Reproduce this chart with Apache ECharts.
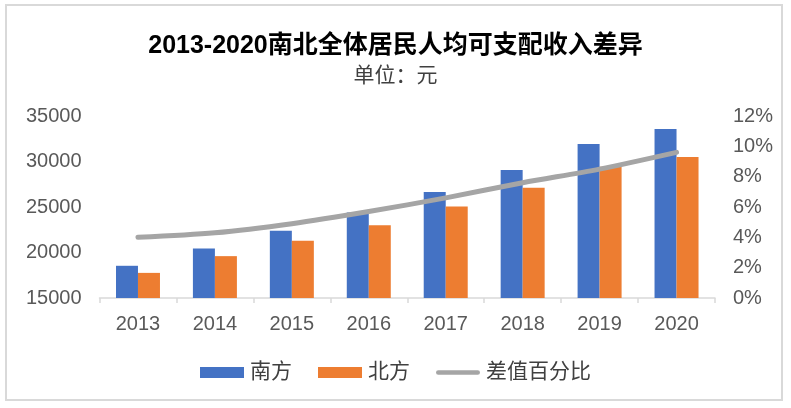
<!DOCTYPE html>
<html>
<head>
<meta charset="utf-8">
<script src="https://cdn.jsdelivr.net/npm/echarts@6/dist/echarts.min.js"></script>
<style>
html,body{margin:0;padding:0;background:#fff;}
#c{width:791px;height:408px;}
</style>
</head>
<body>
<div id="c"></div>
<script>
var categories = ['2013', '2014', '2015', '2016', '2017', '2018', '2019', '2020'];
var south = [18540, 20450, 22400, 24390, 26640, 29070, 31910, 33560];
var north = [17760, 19600, 21300, 22990, 25060, 27110, 29430, 30500];
var ratio = [4.0, 4.3, 4.9, 5.7, 6.6, 7.6, 8.5, 9.6];
var seriesNames = ['南方', '北方', '差值百分比'];
var titleText = '2013-2020南北全体居民人均可支配收入差异';
var subText = '单位：元';

var FONT = '"Liberation Sans", "Noto Sans CJK SC", sans-serif';
var chart = echarts.init(document.getElementById('c'), null, {renderer: 'canvas'});
chart.setOption({
  animation: false,
  backgroundColor: '#fff',
  graphic: [{
    type: 'rect', silent: true,
    shape: {x: 6, y: 5, width: 776, height: 395},
    style: {fill: 'none', stroke: '#D9D9D9', lineWidth: 2}
  }],
  title: [{
    text: titleText, left: 'center', top: 29,
    textStyle: {fontFamily: FONT, fontSize: 25, fontWeight: 'bold', color: '#000'}
  }, {
    text: subText, left: 'center', top: 61,
    textStyle: {fontFamily: FONT, fontSize: 21, fontWeight: 'normal', color: '#404040'}
  }],
  legend: {
    top: 357, left: 'center',
    itemWidth: 44, itemHeight: 11, itemGap: 26,
    textStyle: {fontFamily: FONT, fontSize: 21, color: '#404040', padding: [0, 0, 0, 1]},
    data: [
      {name: seriesNames[0], icon: 'rect'},
      {name: seriesNames[1], icon: 'rect'},
      {name: seriesNames[2], icon: 'path://M2.5,0 L45.5,0 A2.5,2.5 0 0 1 45.5,5 L2.5,5 A2.5,2.5 0 0 1 2.5,0 Z', itemStyle: {color: '#A5A5A5'}}
    ]
  },
  grid: {left: 99.5, right: 76, top: 116, bottom: 110, containLabel: false},
  xAxis: {
    type: 'category', data: categories,
    axisLine: {lineStyle: {color: '#D9D9D9', width: 1.5}},
    axisTick: {show: true, length: 5, lineStyle: {color: '#D9D9D9', width: 1.5}},
    axisLabel: {fontFamily: FONT, fontSize: 20, color: '#595959', margin: 16}
  },
  yAxis: [{
    type: 'value', min: 15000, max: 35000, interval: 5000,
    splitLine: {show: false}, axisLine: {show: false}, axisTick: {show: false},
    axisLabel: {fontFamily: FONT, fontSize: 20, color: '#595959', margin: 18,
      formatter: function (v) { return String(v); }}
  }, {
    type: 'value', min: 0, max: 12, interval: 2,
    splitLine: {show: false}, axisLine: {show: false}, axisTick: {show: false},
    axisLabel: {fontFamily: FONT, fontSize: 20, color: '#595959', margin: 18, formatter: '{value}%'}
  }],
  series: [{
    name: seriesNames[0], type: 'bar', data: south, yAxisIndex: 0,
    barWidth: 22, barGap: '0%',
    itemStyle: {color: '#4472C4'}
  }, {
    name: seriesNames[1], type: 'bar', data: north, yAxisIndex: 0,
    barWidth: 22, barGap: '0%',
    itemStyle: {color: '#ED7D31'}
  }, {
    name: seriesNames[2], type: 'line', data: ratio, yAxisIndex: 1,
    smooth: 0.3, symbol: 'none', showSymbol: false,
    lineStyle: {color: '#A5A5A5', width: 5, cap: 'round', join: 'round'},
    itemStyle: {color: '#A5A5A5'}
  }]
});
</script>
</body>
</html>
